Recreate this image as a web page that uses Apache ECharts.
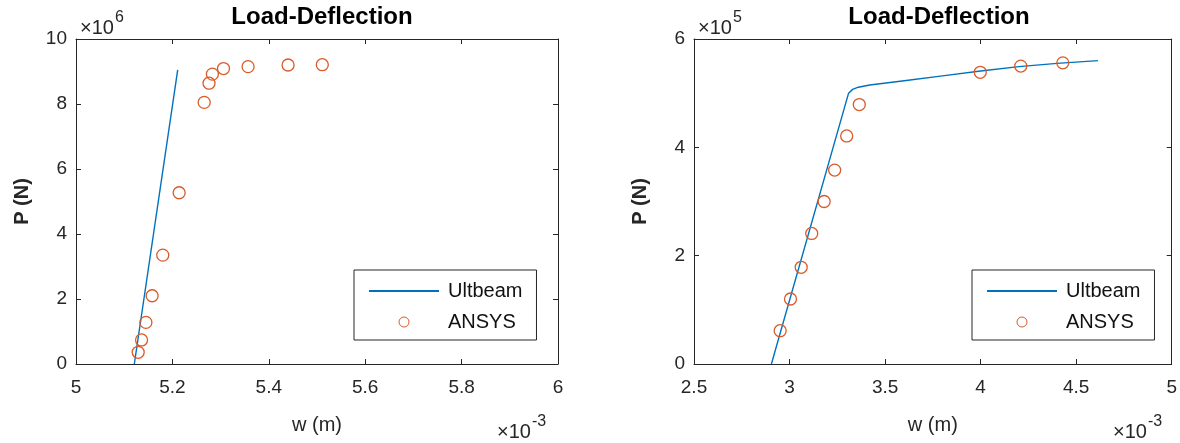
<!DOCTYPE html>
<html>
<head>
<meta charset="utf-8">
<script src="https://cdn.jsdelivr.net/npm/echarts@6/dist/echarts.min.js"></script>
<style>
html,body{margin:0;padding:0;background:#fff;}
#c{width:1180px;height:443px;}
</style>
</head>
<body>
<div id="c"></div>
<script>
// ---- data (x in 1e-3 m, y in N scaled by the exponent shown on each axis) ----
const leftUltbeamX = [5.121, 5.211];
const leftUltbeamY = [0, 9.05];
const leftAnsysX = [5.129, 5.136, 5.145, 5.158, 5.180, 5.214, 5.266, 5.276, 5.283, 5.306, 5.357, 5.440, 5.511];
const leftAnsysY = [0.36, 0.74, 1.28, 2.10, 3.35, 5.27, 8.05, 8.64, 8.92, 9.09, 9.15, 9.20, 9.21];

const rightUltbeamX = [2.905, 3.309, 3.33, 3.36, 3.42, 3.6, 3.8, 4.0, 4.2, 4.4, 4.614];
const rightUltbeamY = [0, 5.0, 5.07, 5.11, 5.15, 5.23, 5.32, 5.41, 5.49, 5.55, 5.60];
const rightAnsysX = [2.951, 3.005, 3.061, 3.116, 3.181, 3.236, 3.299, 3.365, 3.998, 4.21, 4.43];
const rightAnsysY = [0.615, 1.20, 1.785, 2.41, 3.00, 3.58, 4.21, 4.79, 5.385, 5.50, 5.56];

const seriesNames = ['Ultbeam', 'ANSYS'];
const chartTitle = 'Load-Deflection';
const xName = 'w (m)';
const yName = 'P (N)';
const leftYExp = '6';
const rightYExp = '5';
const xExp = '-3';

const zip = (a, b) => a.map((v, i) => [v, b[i]]);

const FONT = 'Liberation Sans, Arial, Helvetica, sans-serif';
const AX = '#262626';
const BLUE = '#0072BD';
const ORANGE = '#D95B29';

function xAxes(grid, min, max, interval) {
  const base = {
    type: 'value', gridIndex: grid, min: min, max: max, interval: interval,
    splitLine: { show: false },
    axisLine: { show: true, onZero: false, lineStyle: { color: AX, width: 1 } },
    axisTick: { show: true, inside: true, length: 5, lineStyle: { color: AX } }
  };
  return [
    Object.assign({}, base, {
      position: 'bottom',
      name: xName, nameLocation: 'middle', nameGap: 51,
      nameTextStyle: { fontFamily: FONT, fontSize: 20, color: AX },
      axisLabel: { show: true, margin: 14, fontFamily: FONT, fontSize: 19, color: AX }
    }),
    Object.assign({}, base, { position: 'top', axisLabel: { show: false } })
  ];
}
function yAxes(grid, min, max, interval) {
  const base = {
    type: 'value', gridIndex: grid, min: min, max: max, interval: interval,
    splitLine: { show: false },
    axisLine: { show: true, onZero: false, lineStyle: { color: AX, width: 1 } },
    axisTick: { show: true, inside: true, length: 5, lineStyle: { color: AX } }
  };
  return [
    Object.assign({}, base, {
      position: 'left',
      name: yName, nameLocation: 'middle', nameGap: 44, nameRotate: 90,
      nameTextStyle: { fontFamily: FONT, fontSize: 20, fontWeight: 'bold', color: AX },
      axisLabel: { show: true, margin: 9, fontFamily: FONT, fontSize: 19, color: AX }
    }),
    Object.assign({}, base, { position: 'right', axisLabel: { show: false } })
  ];
}

function lineSeries(xi, yi, data) {
  return {
    name: seriesNames[0], type: 'line', xAxisIndex: xi, yAxisIndex: yi,
    data: data, showSymbol: false, symbol: 'none', smooth: false,
    lineStyle: { color: BLUE, width: 1.4 }, itemStyle: { color: BLUE },
    animation: false, z: 3
  };
}
function scatterSeries(xi, yi, data) {
  return {
    name: seriesNames[1], type: 'scatter', xAxisIndex: xi, yAxisIndex: yi,
    data: data, symbol: 'circle', symbolSize: 12,
    itemStyle: { color: 'rgba(255,255,255,0)', borderColor: ORANGE, borderWidth: 1.3, opacity: 1 },
    emphasis: { disabled: true },
    animation: false, z: 4
  };
}

function legend(left) {
  return {
    data: [
      { name: seriesNames[0], itemStyle: { opacity: 0 } },
      { name: seriesNames[1], itemStyle: { borderWidth: 1 } }
    ],
    orient: 'vertical', left: left, top: 270,
    padding: [11, 14, 8, 14],
    itemWidth: 70, itemHeight: 10, itemGap: 11,
    borderColor: AX, borderWidth: 1, backgroundColor: '#fff',
    selectedMode: false,
    textStyle: { fontFamily: FONT, fontSize: 20, color: '#111', padding: [0, 0, 0, 4] }
  };
}

function expText(x, y, sup) {
  return [
    { type: 'text', left: x, top: y, style: { text: '\u00d710', font: '20px ' + FONT, fill: AX } },
    { type: 'text', left: x + 35, top: y - 8, style: { text: sup, font: '16px ' + FONT, fill: AX } }
  ];
}

const option = {
  backgroundColor: '#fff',
  animation: false,
  title: [
    { text: chartTitle, left: 317, top: 0, textAlign: 'center',
      textStyle: { fontFamily: FONT, fontSize: 24, fontWeight: 'bold', color: '#000' } },
    { text: chartTitle, left: 934, top: 0, textAlign: 'center',
      textStyle: { fontFamily: FONT, fontSize: 24, fontWeight: 'bold', color: '#000' } }
  ],
  grid: [
    { left: 76, top: 39, width: 482, height: 325, containLabel: false },
    { left: 694, top: 39, width: 480, height: 325, containLabel: false }
  ],
  xAxis: [].concat(xAxes(0, 5, 6, 0.2), xAxes(1, 2.5, 5, 0.5)),
  yAxis: [].concat(yAxes(0, 0, 10, 2), yAxes(1, 0, 6, 2)),
  legend: [legend(354), legend(972)],
  series: [
    lineSeries(0, 0, zip(leftUltbeamX, leftUltbeamY)),
    scatterSeries(0, 0, zip(leftAnsysX, leftAnsysY)),
    lineSeries(2, 2, zip(rightUltbeamX, rightUltbeamY)),
    scatterSeries(2, 2, zip(rightAnsysX, rightAnsysY))
  ],
  graphic: [].concat(
    expText(80, 18, leftYExp),
    expText(698, 18, rightYExp),
    expText(497, 422, xExp),
    expText(1113, 422, xExp)
  )
};

const chart = echarts.init(document.getElementById('c'), null, { renderer: 'canvas' });
chart.setOption(option);
</script>
</body>
</html>
